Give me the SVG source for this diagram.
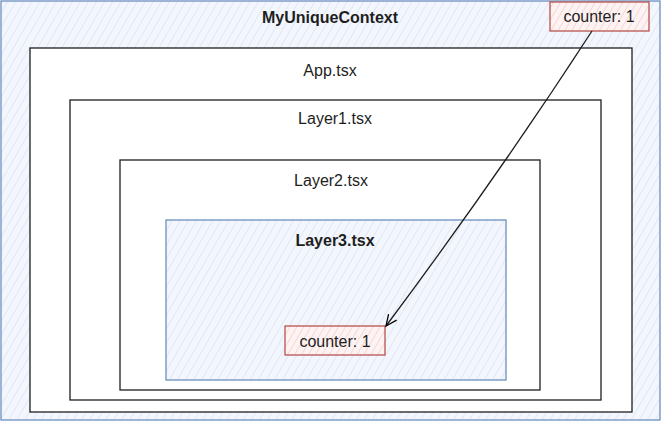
<svg xmlns="http://www.w3.org/2000/svg" width="661" height="421" viewBox="0 0 661 421">
<defs>
<pattern id="hb" patternUnits="userSpaceOnUse" width="7" height="7" patternTransform="rotate(30)">
<rect width="7" height="7" fill="#f3f7fd"/>
<line x1="0" y1="0" x2="0" y2="7" stroke="#d2def1" stroke-width="1.2"/>
</pattern>
<pattern id="hr" patternUnits="userSpaceOnUse" width="6" height="6" patternTransform="rotate(30)">
<rect width="6" height="6" fill="#fdf3f3"/>
<line x1="0" y1="0" x2="0" y2="6" stroke="#f2c4c4" stroke-width="1.2"/>
</pattern>
<marker id="ah" markerWidth="14" markerHeight="14" refX="12" refY="7" orient="auto" markerUnits="userSpaceOnUse">
<path d="M1,2 L12,7 L1,12" fill="none" stroke="#000" stroke-width="1.3"/>
</marker>
<style>
.t{font-family:"Liberation Sans","Open Sans",sans-serif;font-size:16px;fill:#1e1e1e;text-anchor:middle}
.b{font-weight:bold}
.blk{fill:#fff;stroke:#1e1e1e;stroke-width:1.3}
.blue{fill:url(#hb);stroke:#6c8ebf;stroke-width:1.3}
.red{fill:url(#hr);stroke:#b85450;stroke-width:1.3}
</style>
</defs>
<g id="ctx">
<rect class="blue" x="1" y="1" width="659" height="419"/>
<text class="t b" x="330" y="23" font-size="17">MyUniqueContext</text>
</g>
<g id="app">
<rect class="blk" x="30" y="48" width="602" height="364"/>
<text class="t" x="330" y="76">App.tsx</text>
</g>
<g id="layer1">
<rect class="blk" x="70" y="100" width="531" height="300"/>
<text class="t" x="335" y="124">Layer1.tsx</text>
</g>
<g id="layer2">
<rect class="blk" x="120" y="160" width="420" height="230"/>
<text class="t" x="331" y="186">Layer2.tsx</text>
</g>
<g id="layer3">
<rect class="blue" x="166" y="220" width="340" height="160"/>
<text class="t b" x="335" y="246">Layer3.tsx</text>
</g>
<g id="counter-top">
<rect class="red" x="550" y="2" width="99" height="29"/>
<text class="t" x="599" y="22">counter: 1</text>
</g>
<g id="counter-bottom">
<rect class="red" x="285" y="326" width="100" height="29"/>
<text class="t" x="335" y="347">counter: 1</text>
</g>
<g id="connectors">
<path d="M592,31 Q498,176 386,326" fill="none" stroke="#1e1e1e" stroke-width="1.3" marker-end="url(#ah)"/>
</g>
</svg>
